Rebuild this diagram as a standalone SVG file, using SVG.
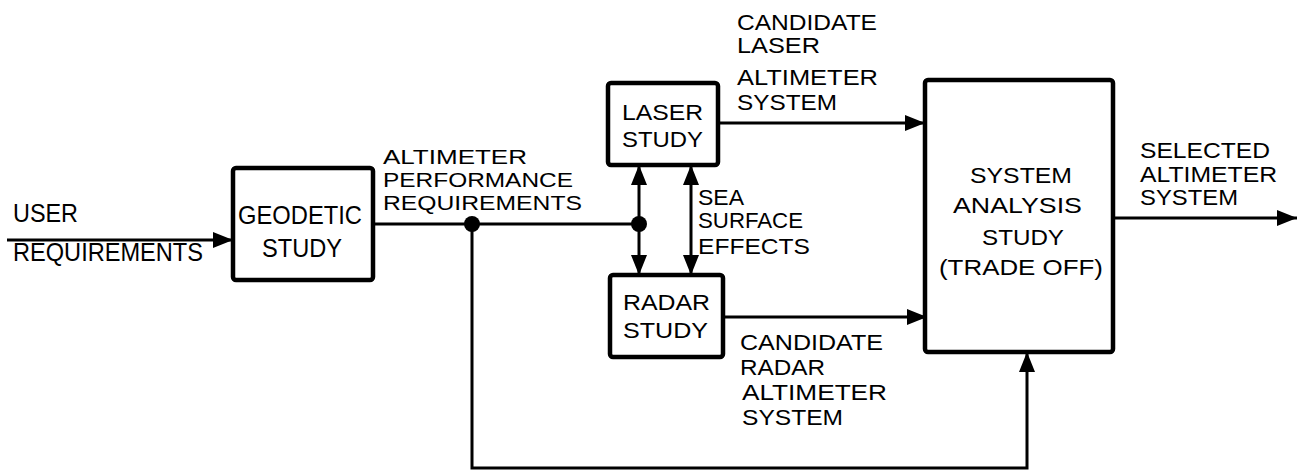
<svg xmlns="http://www.w3.org/2000/svg" width="1305" height="473" viewBox="0 0 1305 473">
<style>
.box{fill:#fff;stroke:#000;stroke-width:4.5;}
.ln{fill:none;stroke:#000;stroke-width:3;}
text{font-family:"Liberation Sans",Arial,sans-serif;font-size:22px;fill:#000;}
.big{font-size:25px;}
.sm{font-size:21px;}
</style>
<defs>
<marker id="ah" markerUnits="userSpaceOnUse" markerWidth="20" markerHeight="16" refX="20" refY="8" orient="auto-start-reverse" viewBox="0 0 20 16">
<path d="M0,0 L20,8 L0,16 Z" fill="#000"/>
</marker>
</defs>
<rect width="1305" height="473" fill="#fff"/>
<g id="connectors">
<path class="ln" d="M7,240 H233" marker-end="url(#ah)"/>
<path class="ln" d="M373,224 H639"/>
<path class="ln" d="M639,165 V275" marker-start="url(#ah)" marker-end="url(#ah)"/>
<path class="ln" d="M691,165 V275" marker-start="url(#ah)" marker-end="url(#ah)"/>
<path class="ln" d="M718,123 H925" marker-end="url(#ah)"/>
<path class="ln" d="M723,317 H927" marker-end="url(#ah)"/>
<path class="ln" d="M1113,218 H1297" marker-end="url(#ah)"/>
<path class="ln" d="M472,224 V468 H1027 V352" marker-end="url(#ah)"/>
<circle cx="472" cy="224" r="8" fill="#000"/>
<circle cx="639" cy="224" r="8" fill="#000"/>
<text class="big" x="13" y="222" textLength="65" lengthAdjust="spacingAndGlyphs">USER</text>
<text class="big" x="13" y="261" textLength="190" lengthAdjust="spacingAndGlyphs">REQUIREMENTS</text>
<text class="sm" x="383" y="164" textLength="144" lengthAdjust="spacingAndGlyphs">ALTIMETER</text>
<text class="sm" x="383" y="187" textLength="190" lengthAdjust="spacingAndGlyphs">PERFORMANCE</text>
<text class="sm" x="383" y="210" textLength="199" lengthAdjust="spacingAndGlyphs">REQUIREMENTS</text>
<text x="698" y="205" textLength="46" lengthAdjust="spacingAndGlyphs">SEA</text>
<text x="698" y="228" textLength="105" lengthAdjust="spacingAndGlyphs">SURFACE</text>
<text x="698" y="254" textLength="112" lengthAdjust="spacingAndGlyphs">EFFECTS</text>
<text x="737" y="30" textLength="140" lengthAdjust="spacingAndGlyphs">CANDIDATE</text>
<text x="737" y="53" textLength="83" lengthAdjust="spacingAndGlyphs">LASER</text>
<text x="737" y="85" textLength="141" lengthAdjust="spacingAndGlyphs">ALTIMETER</text>
<text x="737" y="110" textLength="100" lengthAdjust="spacingAndGlyphs">SYSTEM</text>
<text x="740" y="350" textLength="143" lengthAdjust="spacingAndGlyphs">CANDIDATE</text>
<text x="740" y="375" textLength="85" lengthAdjust="spacingAndGlyphs">RADAR</text>
<text x="742" y="400" textLength="145" lengthAdjust="spacingAndGlyphs">ALTIMETER</text>
<text x="742" y="425" textLength="101" lengthAdjust="spacingAndGlyphs">SYSTEM</text>
<text x="1140" y="158" textLength="130" lengthAdjust="spacingAndGlyphs">SELECTED</text>
<text x="1140" y="182" textLength="137" lengthAdjust="spacingAndGlyphs">ALTIMETER</text>
<text x="1140" y="205" textLength="98" lengthAdjust="spacingAndGlyphs">SYSTEM</text>
</g>
<g id="geodetic">
<rect class="box" x="233" y="168" width="140" height="112" rx="3"/>
<text class="big" x="238" y="224" textLength="124" lengthAdjust="spacingAndGlyphs">GEODETIC</text>
<text class="big" x="262" y="257" textLength="80" lengthAdjust="spacingAndGlyphs">STUDY</text>
</g>
<g id="laser">
<rect class="box" x="608" y="83" width="110" height="82" rx="3"/>
<text x="622" y="120" textLength="81" lengthAdjust="spacingAndGlyphs">LASER</text>
<text x="622" y="147" textLength="81" lengthAdjust="spacingAndGlyphs">STUDY</text>
</g>
<g id="radar">
<rect class="box" x="610" y="275" width="113" height="82" rx="3"/>
<text x="623" y="310" textLength="87" lengthAdjust="spacingAndGlyphs">RADAR</text>
<text x="623" y="338" textLength="85" lengthAdjust="spacingAndGlyphs">STUDY</text>
</g>
<g id="system">
<rect class="box" x="925" y="80" width="188" height="272" rx="3"/>
<text x="970" y="183" textLength="102" lengthAdjust="spacingAndGlyphs">SYSTEM</text>
<text x="953" y="213" textLength="129" lengthAdjust="spacingAndGlyphs">ANALYSIS</text>
<text x="982" y="245" textLength="82" lengthAdjust="spacingAndGlyphs">STUDY</text>
<text x="939" y="275" textLength="164" lengthAdjust="spacingAndGlyphs">(TRADE OFF)</text>
</g>
</svg>
